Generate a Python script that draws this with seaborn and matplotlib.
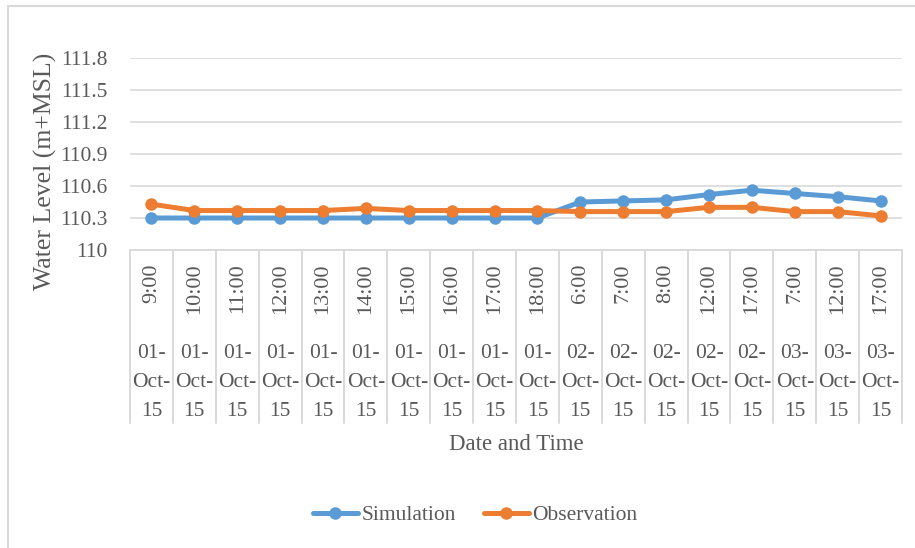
import numpy as np
import pandas as pd
import seaborn as sns
import matplotlib.pyplot as plt
from matplotlib.lines import Line2D

# === Data ===
times = ["9:00", "10:00", "11:00", "12:00", "13:00", "14:00", "15:00", "16:00", "17:00", "18:00",
         "6:00", "7:00", "8:00", "12:00", "17:00", "7:00", "12:00", "17:00"]
dates = ["01-Oct-15"] * 10 + ["02-Oct-15"] * 5 + ["03-Oct-15"] * 3
simulation = [110.30, 110.30, 110.30, 110.30, 110.30, 110.30, 110.30, 110.30, 110.30, 110.30,
              110.45, 110.46, 110.47, 110.52, 110.56, 110.53, 110.50, 110.46]
observation = [110.43, 110.37, 110.37, 110.37, 110.37, 110.39, 110.37, 110.37, 110.37, 110.37,
               110.36, 110.36, 110.36, 110.40, 110.40, 110.36, 110.36, 110.32]
y_ticks = [110, 110.3, 110.6, 110.9, 111.2, 111.5, 111.8]

n = len(times)
df = pd.DataFrame({
    "idx": list(range(n)) * 2,
    "level": simulation + observation,
    "series": ["Simulation"] * n + ["Observation"] * n,
})

# === Style ===
sns.set_style("white")
plt.rcParams["font.family"] = ["Liberation Serif", "DejaVu Serif"]
text_col = "#595959"
grid_col = "#D9D9D9"

fig = plt.figure(figsize=(9.15, 5.48), dpi=100)
W, H = 915, 548
ax = fig.add_axes([130 / W, 1 - 250 / H, 772 / W, 192 / H])

sns.lineplot(data=df, x="idx", y="level", hue="series", sort=False,
             palette={"Simulation": "#5B9BD5", "Observation": "#ED7D31"},
             marker="o", markersize=9, markeredgewidth=0, linewidth=3.6,
             legend=False, ax=ax)

ax.set_ylim(110, 111.8)
ax.set_xlim(-0.5, n - 0.5)
ax.set_yticks(y_ticks)
ax.set_yticklabels(["110", "110.3", "110.6", "110.9", "111.2", "111.5", "111.8"])
ax.tick_params(axis="y", length=0, pad=16, labelsize=15.5, labelcolor=text_col)
ax.set_xticks([])
ax.set_xlabel("")
ax.set_ylabel("")
for y in y_ticks[1:]:
    ax.axhline(y, color=grid_col, lw=1.2, zorder=0)
for s in ["left", "right", "top"]:
    ax.spines[s].set_visible(False)
ax.spines["bottom"].set_color(grid_col)
ax.spines["bottom"].set_linewidth(1.4)

# category table under the axis
tr = ax.get_xaxis_transform()
for i in range(n + 1):
    ax.plot([i - 0.5, i - 0.5], [0, -0.90], transform=tr, color=grid_col,
            lw=1.4, clip_on=False)
for i in range(n):
    ax.text(i, -0.07, times[i], transform=tr, rotation=90, ha="center", va="top",
            fontsize=16, color=text_col)
    d = dates[i].split("-")
    ax.text(i, -0.69, f"{d[0]}-\n{d[1]}-\n{d[2]}", transform=tr, ha="center",
            va="center", fontsize=15.5, color=text_col, linespacing=1.7)

fig.text(45 / W, 1 - 171 / H, "Water Level (m+MSL)", rotation=90, ha="center",
         va="center", fontsize=18.5, color=text_col)
fig.text(516 / W, 1 - 445 / H, "Date and Time", ha="center", va="center",
         fontsize=16.5, color=text_col)

handles = [Line2D([], [], color="#5B9BD5", lw=3.6, marker="o", markersize=9, markeredgewidth=0),
           Line2D([], [], color="#ED7D31", lw=3.6, marker="o", markersize=9, markeredgewidth=0)]
leg = fig.legend(handles, ["Simulation", "Observation"], loc="center", ncol=2,
                 bbox_to_anchor=(475 / W, 1 - 515 / H), frameon=False, fontsize=15.5,
                 handlelength=2.1, columnspacing=1.3, handletextpad=0.15)
for t in leg.get_texts():
    t.set_color(text_col)

# outer chart border (left and top visible)
fig.add_artist(Line2D([8 / W, 8 / W], [0, 1 - 6 / H], color=grid_col, lw=1.5))
fig.add_artist(Line2D([8 / W, 1], [1 - 6 / H, 1 - 6 / H], color=grid_col, lw=1.5))

fig.savefig("out.png", dpi=100)
